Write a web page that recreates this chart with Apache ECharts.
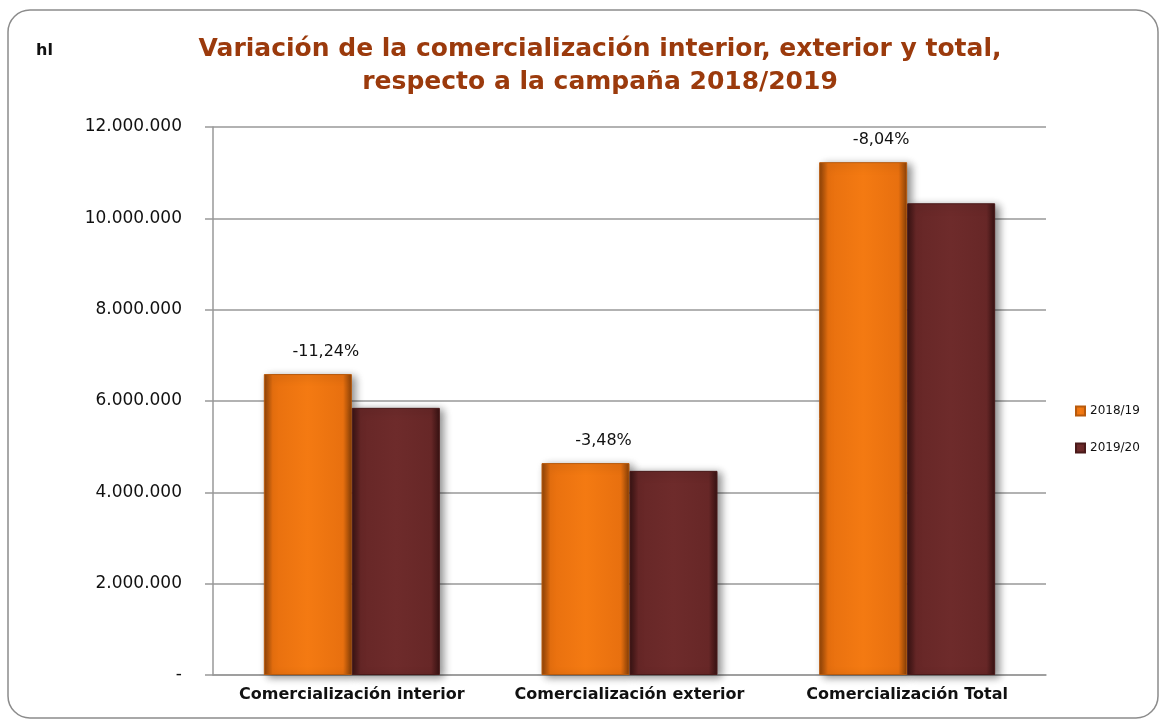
<!DOCTYPE html>
<html>
<head>
<meta charset="utf-8">
<script src="https://cdn.jsdelivr.net/npm/echarts@6/dist/echarts.min.js"></script>
<style>
  html, body { margin: 0; padding: 0; background: #fff; }
  #chart { width: 1164px; height: 724px; }
</style>
</head>
<body>
<div id="chart"></div>
<script>
// datos
var categorias = ["Comercialización interior", "Comercialización exterior", "Comercialización Total"];
var campana1819 = [6590000, 4640000, 11230000];
var campana1920 = [5850000, 4470000, 10330000];
var variaciones = ["-11,24%", "-3,48%", "-8,04%"];
var nombresSeries = ["2018/19", "2019/20"];

var fuente = "DejaVu Sans";

function barra(c1, c2, c3) {
  // degradado horizontal para dar volumen
  return new echarts.graphic.LinearGradient(0, 0, 1, 0, [
    { offset: 0, color: c3 },
    { offset: 0.1, color: c2 },
    { offset: 0.5, color: c1 },
    { offset: 0.9, color: c2 },
    { offset: 1, color: c3 }
  ]);
}

var chart = echarts.init(document.getElementById("chart"));
var option = {
  animation: false,
  textStyle: { fontFamily: fuente },
  title: {
    text: "Variación de la comercialización interior, exterior y total,\nrespecto a la campaña 2018/2019",
    left: 595,
    top: 28,
    textAlign: "center",
    textStyle: {
      fontFamily: fuente,
      fontSize: 25,
      fontWeight: "bold",
      color: "#9b3a0c",
      lineHeight: 33
    }
  },
  graphic: [
    {
      type: "rect",
      shape: { x: 8, y: 10, width: 1150, height: 708, r: 22 },
      style: { fill: "none", stroke: "#8c8c8c", lineWidth: 1.5 },
      silent: true
    },
    {
      type: "text",
      left: 36,
      top: 43,
      style: { text: "hl", fontFamily: fuente, fontSize: 16, fontWeight: "bold", fill: "#111" }
    }
  ],
  legend: {
    orient: "vertical",
    left: 1070,
    top: 400,
    itemWidth: 9,
    itemHeight: 9,
    itemGap: 25,
    icon: "rect",
    textStyle: { fontSize: 12, color: "#111", fontFamily: fuente },
    data: nombresSeries
  },
  grid: { left: 213, right: 118, top: 127, bottom: 49 },
  xAxis: {
    type: "category",
    data: categorias,
    axisLine: { lineStyle: { color: "#999", width: 1.5 } },
    axisTick: { show: false },
    axisLabel: {
      interval: 0,
      fontSize: 16,
      fontWeight: "bold",
      color: "#111",
      margin: 12
    }
  },
  yAxis: {
    type: "value",
    min: 0,
    max: 12000000,
    interval: 2000000,
    axisLine: { show: true, lineStyle: { color: "#999", width: 1.5 } },
    axisTick: { show: true, length: 8, lineStyle: { color: "#999", width: 1.5 } },
    splitLine: { lineStyle: { color: "#999", width: 1.5 } },
    axisLabel: {
      fontSize: 17,
      color: "#111",
      margin: 31,
      formatter: function (v) {
        if (v === 0) return "-";
        return String(v).replace(/\B(?=(\d{3})+(?!\d))/g, ".");
      }
    }
  },
  series: [
    {
      name: nombresSeries[0],
      type: "bar",
      data: campana1819,
      barWidth: 88,
      barGap: "0%",
      itemStyle: {
        color: barra("#f47a12", "#e8700f", "#8a4108"),
        shadowColor: "rgba(0,0,0,0.45)",
        shadowBlur: 8,
        shadowOffsetX: 4,
        shadowOffsetY: 2,
        borderColor: "#b85a0c",
        borderWidth: 1
      },
      label: {
        show: true,
        position: "top",
        distance: 14,
        offset: [18, 0],
        fontSize: 16,
        color: "#111",
        formatter: function (p) { return variaciones[p.dataIndex]; }
      }
    },
    {
      name: nombresSeries[1],
      type: "bar",
      data: campana1920,
      barWidth: 88,
      itemStyle: {
        color: barra("#6e2b2b", "#672727", "#361212"),
        shadowColor: "rgba(0,0,0,0.45)",
        shadowBlur: 8,
        shadowOffsetX: 4,
        shadowOffsetY: 2,
        borderColor: "#4a1a1a",
        borderWidth: 1
      }
    }
  ]
};
chart.setOption(option);
</script>
</body>
</html>
